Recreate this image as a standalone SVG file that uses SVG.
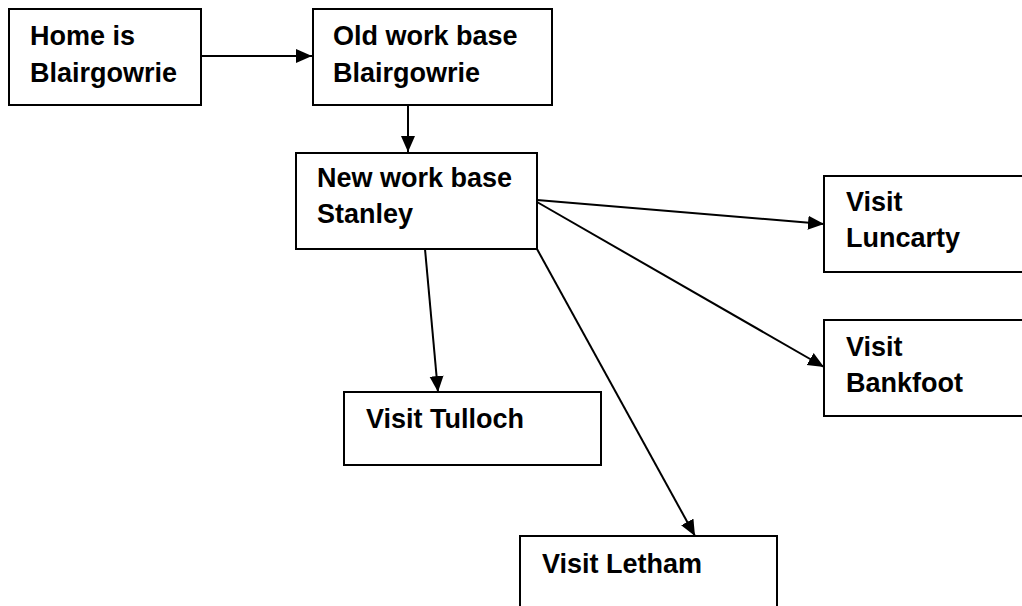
<svg xmlns="http://www.w3.org/2000/svg" width="1022" height="606" viewBox="0 0 1022 606">
<style>
.box{fill:#fff;stroke:#000;stroke-width:2}
.t{font-family:"Liberation Sans",Arial,sans-serif;font-weight:bold;font-size:27px;fill:#000}
.c{stroke:#000;stroke-width:2;fill:none;marker-end:url(#ah)}
</style>
<defs>
<marker id="ah" markerUnits="userSpaceOnUse" markerWidth="16" markerHeight="16" viewBox="0 0 16 16" refX="16" refY="8" orient="auto">
<path d="M0,1 L16,8 L0,15 Z" fill="#000"/>
</marker>
</defs>
<rect width="1022" height="606" fill="#fff"/>
<g id="connectors">
<line class="c" x1="201" y1="56" x2="312" y2="56"/>
<line class="c" x1="408" y1="105" x2="408" y2="152"/>
<line class="c" x1="537" y1="200" x2="824" y2="224"/>
<line class="c" x1="537" y1="202" x2="824" y2="367"/>
<line class="c" x1="425" y1="249" x2="438" y2="392"/>
<line class="c" x1="537" y1="249" x2="695" y2="536"/>
</g>
<g id="n-home">
<rect class="box" x="9" y="9" width="192" height="96"/>
<text class="t" x="30" y="45">Home is</text>
<text class="t" x="30" y="82">Blairgowrie</text>
</g>
<g id="n-old">
<rect class="box" x="313" y="9" width="239" height="96"/>
<text class="t" x="333" y="45">Old work base</text>
<text class="t" x="333" y="82">Blairgowrie</text>
</g>
<g id="n-new">
<rect class="box" x="296" y="153" width="241" height="96"/>
<text class="t" x="317" y="187">New work base</text>
<text class="t" x="317" y="223">Stanley</text>
</g>
<g id="n-luncarty">
<rect class="box" x="824" y="176" width="210" height="96"/>
<text class="t" x="846" y="211">Visit</text>
<text class="t" x="846" y="247">Luncarty</text>
</g>
<g id="n-bankfoot">
<rect class="box" x="824" y="320" width="210" height="96"/>
<text class="t" x="846" y="356">Visit</text>
<text class="t" x="846" y="392">Bankfoot</text>
</g>
<g id="n-tulloch">
<rect class="box" x="344" y="392" width="257" height="73"/>
<text class="t" x="366" y="428">Visit Tulloch</text>
</g>
<g id="n-letham">
<rect class="box" x="520" y="536" width="257" height="90"/>
<text class="t" x="542" y="573">Visit Letham</text>
</g>
</svg>
